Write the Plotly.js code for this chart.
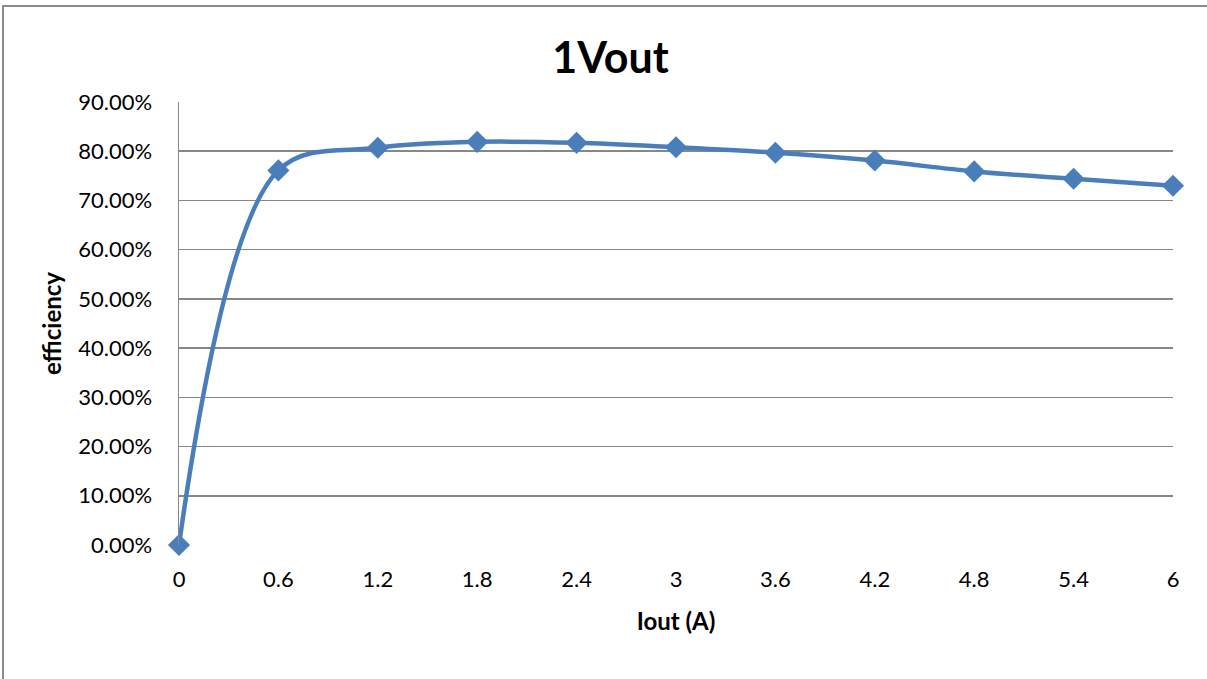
<!DOCTYPE html>
<html>
<head>
<meta charset="utf-8">
<script src="https://cdn.plot.ly/plotly-3.0.1.min.js"></script>
<style>
  html, body { margin: 0; padding: 0; background: #fff; overflow: hidden; }
  #chart { width: 1207px; height: 679px; position: absolute; left: 0; top: 0; }
  #frame { position: absolute; left: 2px; top: 5px; width: 1220px; height: 700px;
           border-left: 2px solid #8a8a8a; border-top: 2px solid #8a8a8a; pointer-events: none; }
</style>
</head>
<body>
<div id="chart"></div>
<div id="frame"></div>
<script>
const iout = [0, 0.6, 1.2, 1.8, 2.4, 3, 3.6, 4.2, 4.8, 5.4, 6];
const tickLabels = ["0", "0.6", "1.2", "1.8", "2.4", "3", "3.6", "4.2", "4.8", "5.4", "6"];
const efficiency = [0.0, 0.761, 0.807, 0.819, 0.817, 0.808, 0.797, 0.781, 0.759, 0.744, 0.730];
const yTicks = [0, 0.1, 0.2, 0.3, 0.4, 0.5, 0.6, 0.7, 0.8, 0.9];

const FONT = "Lato, 'Open Sans', sans-serif";

const trace = {
  x: iout, y: efficiency, type: 'scatter', mode: 'lines+markers',
  line: { color: '#4a7ebb', width: 4.5, shape: 'spline', smoothing: 1 },
  marker: { symbol: 'diamond', size: 17, color: '#4a7ebb' },
  cliponaxis: false, hoverinfo: 'none'
};

const layout = {
  width: 1207, height: 679,
  margin: { l: 179, r: 34, t: 102, b: 134 },
  paper_bgcolor: '#fff', plot_bgcolor: '#fff',
  showlegend: false,
  title: { text: '<b>1Vout</b>', x: 0.5058, xref: 'container', xanchor: 'center',
           y: 0.914, yref: 'container', yanchor: 'middle',
           font: { family: FONT, size: 43, color: '#000' } },
  xaxis: {
    range: [0, 6], tickvals: iout, ticktext: tickLabels,
    showgrid: false, zeroline: false, showline: false, ticks: '',
    ticklabelstandoff: 19,
    tickfont: { family: FONT, size: 22, color: '#000' },
    title: { text: '<b>Iout (A)</b>', standoff: 22, font: { family: FONT, size: 24, color: '#000' } }
  },
  yaxis: {
    range: [0, 0.9], tickvals: yTicks, tickformat: '.2%',
    showgrid: true, gridcolor: '#878787', gridwidth: 1.5,
    zeroline: false, showline: true, linecolor: '#878787', linewidth: 1.5, ticks: '',
    ticklabelstandoff: 21,
    tickfont: { family: FONT, size: 22, color: '#000' },
    title: { text: '<b>efficiency</b>', standoff: 10, font: { family: FONT, size: 24, color: '#000' } }
  }
};

Plotly.newPlot('chart', [trace], layout, { staticPlot: true, displayModeBar: false });
</script>
</body>
</html>
